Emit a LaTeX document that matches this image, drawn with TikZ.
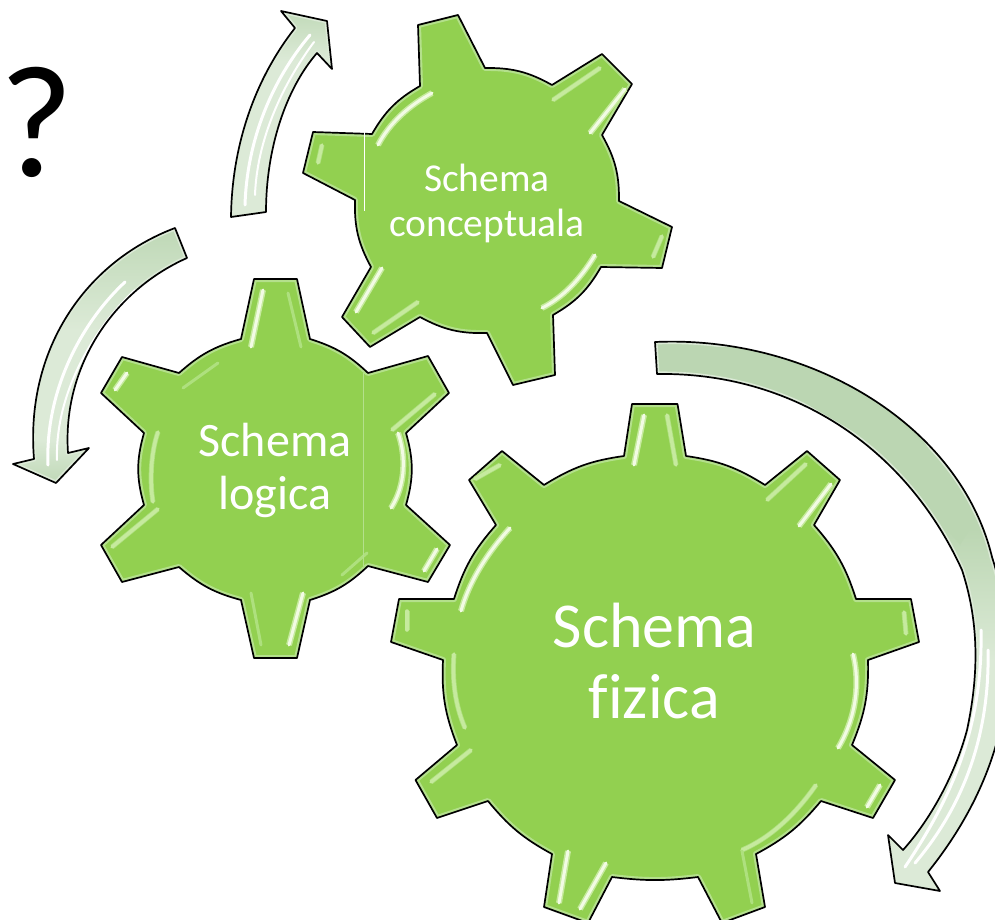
\documentclass[tikz,border=0pt]{standalone}
\usepackage{fontspec}
\setmainfont{Carlito}[Ligatures=NoCommon]
\definecolor{geargreen}{HTML}{92D050}
\definecolor{rimgreen}{HTML}{B4E08C}
\definecolor{arrowfill}{HTML}{BBD6B2}
\definecolor{arrowrim}{HTML}{DCEAD7}
\definecolor{streaksoft}{HTML}{AEE07E}
\definecolor{streaklight}{HTML}{C6EA9E}
\definecolor{streakwhite}{HTML}{F2FBE4}
\def\gearC{(418,25) -- (458,15) -- (485,68) to[bend left=15] (552,85) -- (602,54) -- (632,84) -- (602,135) to[bend left=15] (619,201) -- (672,227) -- (662,268) -- (601,267) to[bend left=15] (553,315) -- (555,375) -- (513,385) -- (487,333) to[bend left=15] (420,317) -- (370,347) -- (342,317) -- (371,267) to[bend left=15] (355,200) -- (303,173) -- (313,132) -- (372,134) to[bend left=15] (420,86) -- cycle}
\def\gearL{(254,279) -- (297,279) -- (310,339) to[bend left=13] (368,373) -- (428,356) -- (449,393) -- (406,433) to[bend left=16] (406,505) -- (450,545) -- (428,582) -- (368,566) to[bend left=13] (310,600) -- (297,658) -- (254,658) -- (241,600) to[bend left=13] (179,567) -- (122,582) -- (101,545) -- (144,505) to[bend left=16] (144,433) -- (101,393) -- (122,357) -- (179,373) to[bend left=13] (241,339) -- cycle}
\def\gearF{(632,404) -- (677.5,404) -- (686,456) to[bend left=12] (765,485) -- (807,451) -- (840,480) -- (814,525) to[bend left=12] (856,599) -- (911,599) -- (919,642) -- (868,660) to[bend left=12] (852,745) -- (895,780) -- (873,818) -- (821,801) to[bend left=11] (756,854) -- (765,907) -- (722,923) -- (698,877) to[bend left=7] (612,877) -- (588,923) -- (544,907) -- (552,854) to[bend left=11] (488,801) -- (437,818) -- (415.5,780) -- (457,745) to[bend left=12] (443,660) -- (391,642) -- (399,599) -- (454,599) to[bend left=12] (496,525) -- (469,480) -- (502,451) -- (544,485) to[bend left=12] (624,456) -- cycle}
\def\arrowT{(231,217) .. controls (232,140) and (258,75) .. (295,28) -- (281,11) -- (327,21) -- (332,69) -- (317,53) .. controls (285,90) and (266,150) .. (266,212) -- cycle}
\def\arrowL{(175,228) -- (187,258) .. controls (115,290) and (62,365) .. (68,453) -- (89,448) -- (56,483) -- (13,464) -- (34,459) .. controls (25,350) and (85,262) .. (175,228) -- cycle}
\def\arrowB{(655,342) .. controls (810,335) and (960,425) .. (992,557) .. controls (1025,660) and (1010,770) .. (928,872) -- (940,891) -- (895,883) -- (888,835) -- (903,850) .. controls (930,820) and (955,775) .. (967,730) .. controls (982,660) and (975,610) .. (962,570) .. controls (905,445) and (790,372) .. (657,374) -- cycle}
\tikzset{
  x=1pt,y=-1pt,
  gearbody/.style={fill=geargreen},
  gearline/.style={draw=black,line width=1.7pt,line join=round},
  gearrim/.style={draw=rimgreen,line width=6pt,line join=round},
  arrowbody/.style={fill=arrowfill},
  arrowedge/.style={draw=arrowrim,line width=5pt,line join=round},
  soft/.style={draw=streaksoft,line width=3pt,line cap=round},
  light/.style={draw=streaklight,line width=3.5pt,line cap=round,preaction={draw=streaksoft,line width=5pt}},
  bright/.style={draw=streakwhite,line width=3pt,line cap=round,preaction={draw=streaklight,line width=6pt}},
  arrowshine/.style={draw=white,line width=3pt,line cap=round},
  geartext/.style={text=white,align=center,inner sep=0pt}
}
\begin{document}
\begin{tikzpicture}
\useasboundingbox (0,0) rectangle (995,920);
\clip (0,0) rectangle (995,920);
% arrows
\begin{scope}
  \clip \arrowT;
  \fill[arrowrim] (200,60) rectangle (340,230);
  \shade[top color=arrowfill,bottom color=arrowrim] (200,0) rectangle (340,61);
  \draw[arrowedge] \arrowT;
  \draw[arrowshine] (245,205) .. controls (247,140) and (272,80) .. (310,35);
  \draw[arrowshine,line width=2pt] (255,195) .. controls (257,140) and (282,85) .. (314,42);
\end{scope}
\draw[gearline] \arrowT;
\begin{scope}
  \clip \arrowL;
  \shade[top color=arrowfill,bottom color=arrowrim] (0,215) rectangle (200,330);
  \fill[arrowrim] (0,329) rectangle (200,440);
  \shade[top color=arrowrim,bottom color=arrowfill] (0,439) rectangle (200,490);
  \draw[arrowedge] \arrowL;
  \draw[arrowshine] (125,282) .. controls (82,322) and (45,390) .. (48,465);
  \draw[arrowshine,line width=2pt] (135,290) .. controls (92,330) and (55,395) .. (57,460);
\end{scope}
\draw[gearline] \arrowL;
\begin{scope}
  \clip \arrowB;
  \fill[arrowbody] (640,330) rectangle (1030,530);
  \shade[top color=arrowfill,bottom color=arrowrim] (640,529) rectangle (1030,660);
  \fill[arrowrim] (640,659) rectangle (1030,900);
  \draw[arrowedge] \arrowB;
  \fill[arrowbody] (660,347) rectangle (820,369);
  \fill[arrowbody] (800,352) -- (900,405) -- (975,520) -- (960,545) -- (885,450) -- (800,400) -- cycle;
  \draw[arrowshine] (988,650) .. controls (990,740) and (960,810) .. (915,863);
  \draw[arrowshine] (981,630) .. controls (983,730) and (950,800) .. (905,867);
\end{scope}
\draw[gearline] \arrowB;
% gears
\fill[gearbody] \gearF;
\begin{scope}\clip \gearF; \draw[gearrim] \gearF; \end{scope}
\draw[gearline] \gearF;
\fill[gearbody] \gearL;
\begin{scope}\clip \gearL; \draw[gearrim] \gearL; \end{scope}
\draw[gearline] \gearL;
\fill[gearbody] \gearC;
\begin{scope}\clip \gearC; \draw[gearrim] \gearC; \end{scope}
\draw[gearline] \gearC;
% conceptuala streaks
\draw[bright] (432,93) .. controls (410,105) and (390,122) .. (378,145);
\draw[light] (553,100) -- (600,68);
\draw[bright] (625,89) -- (590,133);
\draw[light] (653,257) -- (662,236);
\draw[bright] (595,255) .. controls (580,280) and (562,298) .. (542,308);
\draw[bright] (382,268) -- (356,312);
\draw[light] (418,302) -- (373,333);
\draw[light] (322,145) -- (318,163);
\draw[draw=white,line width=1pt] (364,132) -- (364,211);
% logica streaks
\draw[bright] (263,290) -- (251,347);
\draw[soft] (288,293) -- (301,347);
\draw[soft] (183,388) -- (218,363);
\draw[bright] (127,373) -- (115,390);
\draw[light] (158,432) .. controls (150,455) and (150,485) .. (153,502);
\draw[light] (158,509) -- (112,547);
\draw[light] (392,430) -- (435,394);
\draw[bright] (398,433) .. controls (406,455) and (406,485) .. (391,508);
\draw[bright] (437,549) -- (424,571);
\draw[soft] (367,553) -- (342,575);
\draw[soft] (251,593) -- (261,645);
\draw[bright] (303,593) -- (289,645);
\draw[draw=rimgreen,line width=0.7pt] (363,373) -- (363,566);
% fizica streaks
\draw[bright] (644,415) -- (634,465);
\draw[light] (667,415) -- (676,465);
\draw[light] (806,464) -- (767,500);
\draw[bright] (831,484) -- (799,526);
\draw[bright] (510,528) .. controls (485,555) and (468,585) .. (461,611);
\draw[light] (500,465) -- (475,479);
\draw[light] (407,611) -- (407,630);
\draw[light] (454,654) .. controls (452,680) and (455,705) .. (465,728);
\draw[light] (471,750) -- (431,782);
\draw[bright] (853,654) .. controls (862,690) and (852,725) .. (838,748);
\draw[light] (816,785) .. controls (795,815) and (770,838) .. (742,850);
\draw[bright] (880,785) -- (867,807);
\draw[soft] (742,851) -- (752,903);
\draw[bright] (568,851) -- (559,903);
\draw[bright] (606,863) -- (580,909);
\draw[light] (904,612) -- (906,634);
% labels
\node[geartext,font=\fontsize{39.5}{45}\selectfont] (labelC) at (487,203) {Schema\\conceptuala};
\node[geartext,font=\fontsize{48}{53}\selectfont] (labelL) at (275,470) {Schema\\logica};
\node[geartext,font=\fontsize{64}{71}\selectfont] (labelF) at (654.5,661) {Schema\\fizica};
\node[inner sep=0pt,anchor=base,font=\fontsize{160}{160}\selectfont] (qmark) at (37,177) {?};
\end{tikzpicture}
\end{document}
